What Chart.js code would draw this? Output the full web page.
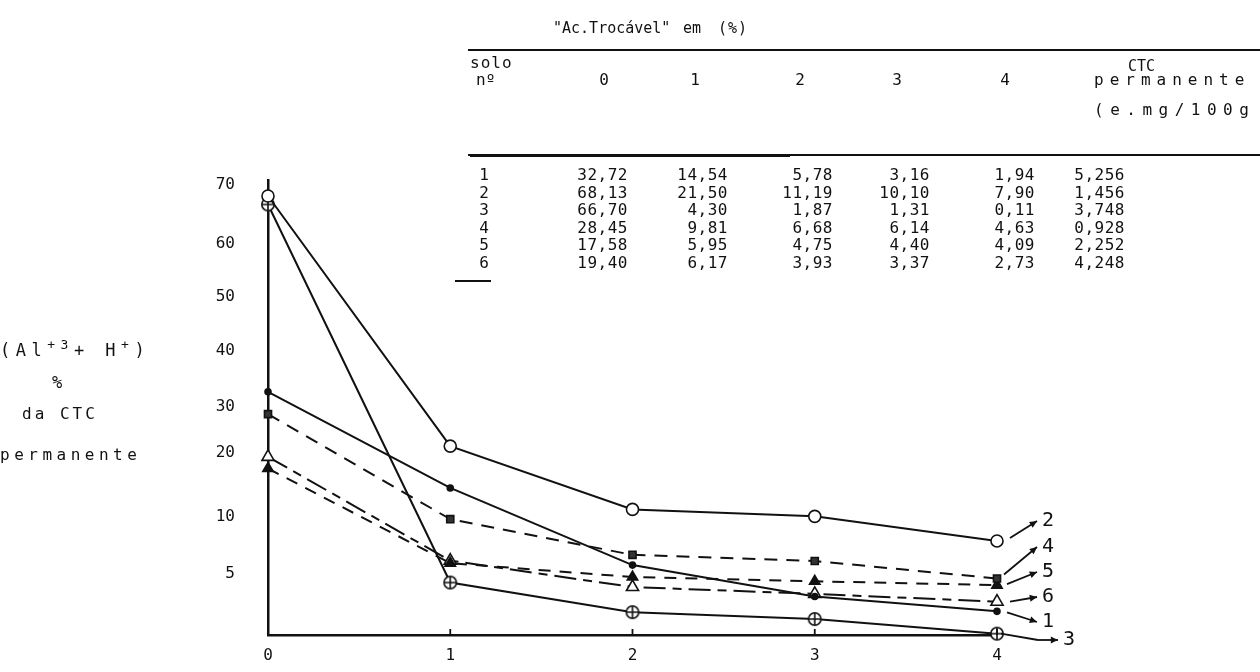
<!DOCTYPE html>
<html>
<head>
<meta charset="utf-8">
<script src="https://cdn.jsdelivr.net/npm/chart.js@4.4.1/dist/chart.umd.min.js"></script>
<style>
  html, body { margin: 0; padding: 0; background: #fff; }
  #wrap { position: relative; width: 1260px; height: 672px; overflow: hidden; font-family: "DejaVu Sans Mono", "Liberation Mono", monospace; color: #111; }
  #chart { position: absolute; left: 0; top: 0; }
  .t { position: absolute; white-space: pre; font-size: 16px; line-height: 20px; }
  .r { text-align: right; }
  .c { text-align: center; }
  .rule { position: absolute; background: #111; }
  sup { font-size: 13px; vertical-align: 7px; line-height: 0; }
</style>
</head>
<body>
<div id="wrap">
  <canvas id="chart" width="1260" height="672"></canvas>
</div>
<script>
// ---------- data ----------
const categories = ['0', '1', '2', '3', '4'];
const soloNumbers = ['1', '2', '3', '4', '5', '6'];
const solo1 = [32.72, 14.54, 5.78, 3.16, 1.94];
const solo2 = [68.13, 21.50, 11.19, 10.10, 7.90];
const solo3 = [66.70, 4.30, 1.87, 1.31, 0.11];
const solo4 = [28.45, 9.81, 6.68, 6.14, 4.63];
const solo5 = [17.58, 5.95, 4.75, 4.40, 4.09];
const solo6 = [19.40, 6.17, 3.93, 3.37, 2.73];
const ctcPermanente = [5.256, 1.456, 3.748, 0.928, 2.252, 4.248];
const yTickValues = [5, 10, 20, 30, 40, 50, 60, 70];

// ---------- non-uniform (hand drawn) y scale ----------
// knot values and their height above the axis bottom, in px of a 455px tall plot area
const Y_KNOT_VALUES = [0, 5, 10, 20, 30, 40, 50, 60, 70];
const Y_KNOT_HEIGHTS = [0, 61, 118, 182, 228, 284, 338, 391, 450];
const Y_SPAN = 455;

function knotPos(v) {
  const kv = Y_KNOT_VALUES, kp = Y_KNOT_HEIGHTS;
  let i = 0;
  if (v <= kv[0]) i = 0;
  else if (v >= kv[kv.length - 1]) i = kv.length - 2;
  else { while (i < kv.length - 2 && v > kv[i + 1]) i++; }
  const t = (v - kv[i]) / (kv[i + 1] - kv[i]);
  return kp[i] + t * (kp[i + 1] - kp[i]);
}
function knotVal(p) {
  const kv = Y_KNOT_VALUES, kp = Y_KNOT_HEIGHTS;
  let i = 0;
  if (p <= kp[0]) i = 0;
  else if (p >= kp[kp.length - 1]) i = kp.length - 2;
  else { while (i < kp.length - 2 && p > kp[i + 1]) i++; }
  const t = (p - kp[i]) / (kp[i + 1] - kp[i]);
  return kv[i] + t * (kv[i + 1] - kv[i]);
}

class PiecewiseScale extends Chart.LinearScale {
  buildTicks() { return yTickValues.map(v => ({ value: v })); }
  getPixelForValue(value) {
    return this.bottom - knotPos(value) * (this.bottom - this.top) / Y_SPAN;
  }
  getValueForPixel(pixel) {
    return knotVal((this.bottom - pixel) * Y_SPAN / (this.bottom - this.top));
  }
}
PiecewiseScale.id = 'piecewise';
PiecewiseScale.defaults = Chart.LinearScale.defaults;
Chart.register(PiecewiseScale);

// ---------- point marker: circle with a cross ----------
function circlePlus() {
  const c = document.createElement('canvas');
  c.width = 16; c.height = 16;
  const g = c.getContext('2d');
  g.strokeStyle = '#111'; g.lineWidth = 1.6; g.fillStyle = '#fff';
  g.beginPath(); g.arc(8, 8, 6.2, 0, Math.PI * 2); g.fill(); g.stroke();
  g.beginPath(); g.moveTo(2, 8); g.lineTo(14, 8); g.moveTo(8, 2); g.lineTo(8, 14); g.stroke();
  return c;
}

const INK = '#111';
const seriesValues = [solo1, solo2, solo3, solo4, solo5, solo6];
const seriesStyles = [
  { pointStyle: 'circle', radius: 3, bg: INK, dash: [] },
  { pointStyle: 'circle', radius: 6, bg: '#fff', dash: [] },
  { pointStyle: circlePlus(), radius: 7, bg: '#fff', dash: [] },
  { pointStyle: 'rect', radius: 5, bg: '#333', dash: [13, 9] },
  { pointStyle: 'triangle', radius: 6, bg: INK, dash: [12, 9] },
  { pointStyle: 'triangle', radius: 7, bg: '#fff', dash: [22, 7, 9, 7] }
];

const datasets = seriesValues.map((vals, i) => ({
  label: soloNumbers[i],
  data: vals,
  borderColor: INK,
  borderWidth: 2,
  borderDash: seriesStyles[i].dash,
  pointStyle: seriesStyles[i].pointStyle,
  pointRadius: seriesStyles[i].radius,
  pointBackgroundColor: seriesStyles[i].bg,
  pointBorderColor: INK,
  pointBorderWidth: 1.6,
  tension: 0,
  clip: false
}));

// end labels (dataset order 1..6): label y and arrow start offsets
const endLabels = [
  { y: 622, dx: 10, dy: 1 },
  { y: 521, dx: 13, dy: -3 },
  { y: 640, dx: 6, dy: 2, elbow: true },
  { y: 547, dx: 7, dy: -4 },
  { y: 572, dx: 10, dy: -1 },
  { y: 597, dx: 13, dy: 0 }
];

function arrow(ctx, x1, y1, x2, y2) {
  ctx.beginPath(); ctx.moveTo(x1, y1); ctx.lineTo(x2, y2); ctx.stroke();
  const a = Math.atan2(y2 - y1, x2 - x1), s = 8;
  ctx.beginPath();
  ctx.moveTo(x2, y2);
  ctx.lineTo(x2 - s * Math.cos(a - 0.45), y2 - s * Math.sin(a - 0.45));
  ctx.lineTo(x2 - s * Math.cos(a + 0.45), y2 - s * Math.sin(a + 0.45));
  ctx.closePath(); ctx.fill();
}

const decorPlugin = {
  id: 'decor',
  afterDraw(chart) {
    const ctx = chart.ctx, xs = chart.scales.x, ys = chart.scales.y;
    ctx.save();
    ctx.strokeStyle = INK; ctx.fillStyle = INK; ctx.lineWidth = 1.8; ctx.setLineDash([]);
    // small tick marks on the x axis
    for (let i = 1; i < categories.length; i++) {
      const px = xs.getPixelForValue(i);
      ctx.beginPath(); ctx.moveTo(px, ys.bottom); ctx.lineTo(px, ys.bottom - 6); ctx.stroke();
    }
    // series end labels with arrows
    ctx.font = '20px "DejaVu Sans Mono"';
    ctx.textBaseline = 'middle'; ctx.textAlign = 'left';
    chart.data.datasets.forEach((ds, i) => {
      const meta = chart.getDatasetMeta(i);
      const p = meta.data[meta.data.length - 1];
      const L = endLabels[i];
      const sx = p.x + L.dx, sy = p.y + L.dy;
      if (L.elbow) {
        ctx.beginPath(); ctx.moveTo(p.x + 4, p.y); ctx.lineTo(1038, L.y); ctx.stroke();
        arrow(ctx, 1038, L.y, 1058, L.y);
        ctx.fillText(ds.label, 1063, L.y);
      } else {
        arrow(ctx, sx, sy, 1037, L.y);
        ctx.fillText(ds.label, 1042, L.y);
      }
    });
    ctx.restore();
  }
};

new Chart(document.getElementById('chart'), {
  type: 'line',
  data: { labels: categories, datasets },
  options: {
    responsive: false,
    animation: false,
    devicePixelRatio: 1,
    layout: { padding: { left: 0, right: 263, top: 180, bottom: 0 } },
    plugins: { legend: { display: false }, tooltip: { enabled: false } },
    scales: {
      x: {
        type: 'category',
        offset: false,
        grid: { display: false, drawTicks: false },
        border: { display: true, color: INK, width: 2.5 },
        ticks: { color: INK, padding: 11, maxRotation: 0, font: { family: 'DejaVu Sans Mono', size: 16 } },
        afterFit(s) { s.height = 37; }
      },
      y: {
        type: 'piecewise',
        min: 0,
        max: 71,
        grid: { display: true, drawOnChartArea: false, drawTicks: true, tickLength: 32, tickColor: 'rgba(0,0,0,0)', color: 'rgba(0,0,0,0)' },
        border: { display: true, color: INK, width: 2.5 },
        ticks: { color: INK, padding: 1, callback: v => String(v), font: { family: 'DejaVu Sans Mono', size: 16 } },
        afterFit(s) { s.width = 268; }
      }
    }
  },
  plugins: [decorPlugin]
});

// ---------- HTML text: axis title and table ----------
const wrap = document.getElementById('wrap');
function addText(html, left, top, cls, extra) {
  const d = document.createElement('div');
  d.className = 't' + (cls ? ' ' + cls : '');
  d.innerHTML = html;
  d.style.left = left + 'px'; d.style.top = top + 'px';
  if (extra) Object.assign(d.style, extra);
  wrap.appendChild(d);
  return d;
}
function addRule(left, top, width, height) {
  const d = document.createElement('div');
  d.className = 'rule';
  Object.assign(d.style, { left: left + 'px', top: top + 'px', width: width + 'px', height: height + 'px' });
  wrap.appendChild(d);
}

// y axis title
addText('(Al<sup>+3</sup>+ H<sup>+</sup>)', 0, 340, '', { letterSpacing: '5.5px', fontSize: '17px' });
addText('%', 52, 372, '', { fontSize: '17px' });
addText('da CTC', 22, 404, '', { letterSpacing: '3px' });
addText('permanente', 0, 445, '', { letterSpacing: '4.5px' });

// table
const tableTitle = ['"Ac.Trocável"', 'em', '(%)'];
addText(tableTitle[0], 553, 18, '', { fontSize: '15px', letterSpacing: '0px' });
addText(tableTitle[1], 683, 18, '', { fontSize: '15px' });
addText(tableTitle[2], 718, 18, '', { fontSize: '15px', letterSpacing: '1px' });
addRule(468, 49, 792, 2);
addText('solo', 470, 53, '', { letterSpacing: '1px' });
addText('nº', 476, 70);
const headerCenters = [604, 695, 800, 897, 1005];
categories.forEach((c, i) => addText(c, headerCenters[i] - 20, 70, 'c', { width: '40px' }));
addText('CTC', 1128, 56, '', { fontSize: '15px' });
addText('permanente', 1094, 70, '', { letterSpacing: '6px' });
addText('(e.mg/100g', 1094, 100, '', { letterSpacing: '6.5px' });
addRule(468, 154, 792, 2);
addRule(470, 154, 320, 3);

const rowTops = [165, 183, 200, 218, 235, 253];
const colRights = [628, 728, 833, 930, 1035, 1125];
function fmt(v, d) { return v.toFixed(d).replace('.', ','); }
seriesValues.forEach((vals, r) => {
  addText(soloNumbers[r], 474, rowTops[r], 'c', { width: '20px' });
  vals.forEach((v, c) => addText(fmt(v, 2), colRights[c] - 80, rowTops[r], 'r', { width: '80px', letterSpacing: '0.5px' }));
  addText(fmt(ctcPermanente[r], 3), colRights[5] - 80, rowTops[r], 'r', { width: '80px', letterSpacing: '0.5px' });
});
addRule(455, 280, 36, 2);
</script>
</body>
</html>
